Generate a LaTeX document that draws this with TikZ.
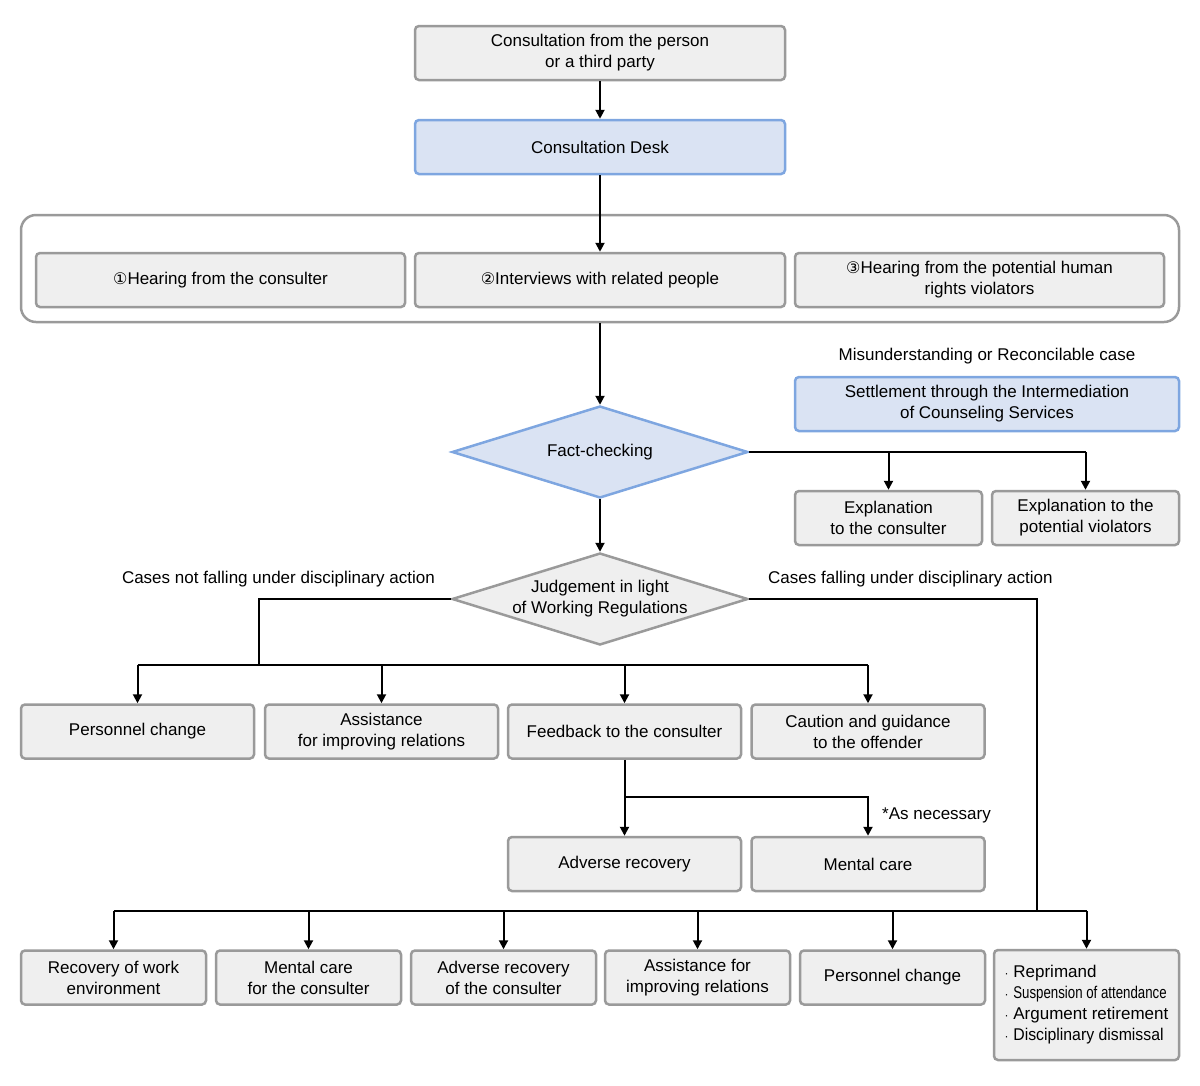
\documentclass[tikz,border=0pt]{standalone}
\usepackage{fontspec}
\setmainfont{Liberation Sans}
\newfontfamily\djvfont{DejaVu Sans}
\usetikzlibrary{shapes.geometric,arrows.meta}
\definecolor{gfill}{HTML}{EFEFEF}
\definecolor{gline}{HTML}{9A9A9A}
\definecolor{bfill}{HTML}{DAE3F3}
\definecolor{bline}{HTML}{7EA6E0}
\begin{document}
\begin{tikzpicture}[x=1pt,y=-1pt,
  every node/.style={font=\fontsize{17}{21}\selectfont,align=center},
  gbox/.style={draw=gline,fill=gfill,line width=2.5pt,rounded corners=4pt,minimum height=54,inner sep=0},
  bbox/.style={gbox,draw=bline,fill=bfill},
  dia/.style={diamond,draw=gline,fill=gfill,line width=2.5pt,minimum width=296,minimum height=92,inner sep=0,aspect=3.2},
  lbl/.style={inner sep=0},
  arr/.style={line width=2pt,-{Triangle[length=9pt,width=9pt]}},
  ln/.style={line width=2pt}]
\useasboundingbox (0,0) rectangle (1200,1085);
\node[gbox,minimum width=370] (top) at (600,53) {Consultation from the person\\or a third party};
\node[bbox,minimum width=370] (desk) at (600,147) {Consultation Desk};
\node[draw=gline,line width=2.5pt,rounded corners=15pt,minimum width=1158,minimum height=107,inner sep=0] (cont) at (600,268.5) {};
\node[gbox,minimum width=369] (h1) at (220.5,280) {{\djvfont\fontsize{16}{20}\selectfont ①}Hearing from the consulter};
\node[gbox,minimum width=370] (h2) at (600,280) {{\djvfont\fontsize{16}{20}\selectfont ②}Interviews with related people};
\node[gbox,minimum width=369] (h3) at (979.5,280) {{\djvfont\fontsize{16}{20}\selectfont ③}Hearing from the potential human\\rights violators};
\node[lbl] (mis) at (987,356) {Misunderstanding or Reconcilable case};
\node[bbox,minimum width=384] (set) at (987,404) {Settlement through the Intermediation\\of Counseling Services};
\node[dia,draw=bline,fill=bfill] (fact) at (600,452) {Fact-checking};
\node[gbox,minimum width=187] (e1) at (888.5,518) {Explanation\\to the consulter};
\node[gbox,minimum width=187] (e2) at (1085.5,518) {Explanation to the\\potential violators};
\node[dia] (judge) at (600,599) {Judgement in light\\of Working Regulations};
\node[lbl,anchor=east] (nf) at (435,579) {Cases not falling under disciplinary action};
\node[lbl,anchor=west] (fa) at (768,579) {Cases falling under disciplinary action};
\node[gbox,minimum width=233] (r1) at (137.5,731.5) {Personnel change};
\node[gbox,minimum width=233] (r2) at (381.5,731.5) {Assistance\\for improving relations};
\node[gbox,minimum width=233] (r3) at (624.5,731.5) {Feedback to the consulter};
\node[gbox,minimum width=233] (r4) at (868,731.5) {Caution and guidance\\to the offender};
\node[gbox,minimum width=233] (s1) at (624.5,864) {Adverse recovery};
\node[gbox,minimum width=233] (s2) at (868,864) {Mental care};
\node[lbl,anchor=west] (nec) at (882,815) {*As necessary};
\node[gbox,minimum width=185] (b1) at (113.5,977.5) {Recovery of work\\environment};
\node[gbox,minimum width=185] (b2) at (308.5,977.5) {Mental care\\for the consulter};
\node[gbox,minimum width=185] (b3) at (503.5,977.5) {Adverse recovery\\of the consulter};
\node[gbox,minimum width=185] (b4) at (697.5,977.5) {Assistance for\\improving relations};
\node[gbox,minimum width=185] (b5) at (892.5,977.5) {Personnel change};
\node[gbox,minimum width=185,minimum height=110,align=left,inner xsep=5pt] (b6) at (1086.5,1005) {{\fontsize{12}{22}\selectfont ·} Reprimand\\{\fontsize{12}{22}\selectfont ·} \scalebox{0.78}[1]{Suspension of attendance}\\{\fontsize{12}{22}\selectfont ·} Argument retirement\\{\fontsize{12}{22}\selectfont ·} \scalebox{0.93}[1]{Disciplinary dismissal}};
\coordinate (jr) at (1037,599);
\coordinate (jb) at (1037,911);
\draw[arr] (top) -- (desk);
\draw[arr] (desk) -- (h2);
\draw[arr] (cont) -- (fact);
\draw[arr] (fact) -- (judge);
\draw[ln] (fact.east) -- (1086,452);
\draw[arr] (888.5,452) -- (e1);
\draw[arr] (1085.5,452) -- (e2);
\draw[ln] (judge.west) -| (259,665);
\draw[ln] (137.5,665) -- (868,665);
\foreach \n/\x in {r1/137.5,r2/381.5,r3/624.5,r4/868} \draw[arr] (\x,665) -- (\n);
\draw[arr] (r3) -- (s1);
\draw[arr] (624.5,797) -| (s2);
\draw[ln] (judge.east) -- (jr) -- (jb);
\draw[ln] (113.5,911) -- (1086.5,911);
\foreach \n/\x in {b1/113.5,b2/308.5,b3/503.5,b4/697.5,b5/892.5,b6/1086.5} \draw[arr] (\x,911) -- (\n.north);
\end{tikzpicture}
\end{document}
